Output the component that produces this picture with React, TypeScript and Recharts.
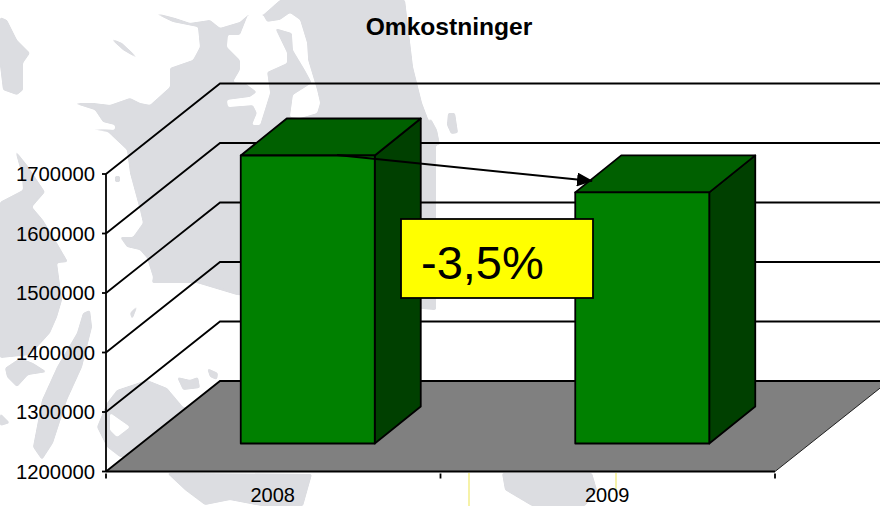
import React from "react";
import { BarChart, Bar, XAxis, YAxis, CartesianGrid } from "recharts";

const years = ["2008", "2009"];
const costs = [1684000, 1622000];
const yTicks = [1200000, 1300000, 1400000, 1500000, 1600000, 1700000];
const chartTitle = "Omkostninger";
const changeLabel = "-3,5%";

const chartData = years.map((year, i) => ({ year, cost: costs[i] }));

const FONT = "'Liberation Sans', Arial, sans-serif";
const DEPTH_X = 114;
const DEPTH_Y = 90.5;
const BAR_SHIFT_X = 34.4;
const BAR_SHIFT_Y = 28;
const BAR_DEPTH_X = 46;
const BAR_DEPTH_Y = 37;
const LAND = "#dcdde1";
const LINE_W = 1.8;

const landPaths = [
  "M73,103 L93,103 L110,105 L130,98 L140,103 L150,105 L170,87 L170,68 L193,60 L200,47 L198,27 L173,22 L152,12 L175,18 L190,23 L210,20 L220,28 L240,22 L248,15 L263,15 L280,0 L405,0 L413,67 L422,103 L436,140 L436,310 L237,295 L197,283 L152,283 L153,277 L147,258 L140,250 L127,247 L120,237 L133,237 L143,223 L140,210 L130,173 L127,150 L108,132 L83,128 L115,130 L115,125 L103,122 L95,110 Z",
  "M0,17 L7,20 L17,40 L30,53 L23,63 L23,90 L17,95 L3,90 L0,65 Z",
  "M110,38 L122,43 L140,60 L123,50 Z",
  "M0,202 L23,190 L22,175 L15,150 L27,165 L45,192 L32,207 L43,220 L57,243 L68,262 L57,263 L62,300 L57,317 L50,333 L30,355 L0,358 Z",
  "M5,368 L20,358 L33,363 L47,372 L28,375 L17,387 L7,377 Z",
  "M90,310 L92,327 L82,367 L67,400 L53,443 L42,460 L33,447 L42,400 L57,367 L77,333 L83,313 Z",
  "M0,413 L10,423 L0,426 Z",
  "M107,403 L117,390 L147,380 L167,388 L183,407 L240,420 L240,460 L120,457 L107,447 L97,427 Z",
  "M207,368 L218,373 L217,380 L210,377 Z",
  "M177,377 L190,380 L198,377 L200,388 L183,390 Z",
  "M130,313 L138,305 L132,320 Z",
  "M115,176 L120,176 L120,182 L115,182 Z",
  "M167,473 L185,490 L205,505 L230,500 L262,506 L303,506 L312,474 Z",
  "M502,473 L592,473 L597,490 L585,506 L532,506 L505,490 Z",
  "M448,113 L455,113 L458,133 L451,134 L447,125 Z",
  "M430,117 L437,130 L440,145 L430,145 Z",
];

const whitePaths = [
  "M248,15 L263,15 L267,22 L280,20 L290,13 L300,20 L307,43 L308,60 L317,90 L320,103 L317,113 L300,118 L290,117 L293,95 L312,83 L305,70 L293,50 L292,33 L275,28 L287,53 L287,63 L267,72 L270,93 L260,125 L252,125 L257,113 L253,105 L228,107 L227,100 L250,97 L257,92 L245,83 L233,82 L240,70 L240,60 L227,47 L228,35 L240,35 Z",
  "M110,413 L130,427 L117,437 L110,430 Z",
];

// Each horizontal grid line becomes a side-wall slant plus a back-wall line.
function WallLine(props: any) {
  const { x1, x2, y1 } = props;
  const backY = y1 - DEPTH_Y;
  const backL = x1 + DEPTH_X;
  const backR = x2 + DEPTH_X;
  if (Math.abs(y1 - 471.5) < 1) {
    return (
      <g>
        <polygon points={`${x1},${y1} ${backL},${backY} ${backR},${backY} ${x2},${y1}`} fill="#808080" />
        <polyline points={`${x1},${y1} ${backL},${backY} ${backR},${backY}`} fill="none" stroke="#000" strokeWidth={LINE_W} />
        <line x1={x2} y1={y1} x2={backR} y2={backY} stroke="#222" strokeWidth={1} />
      </g>
    );
  }
  return (
    <polyline points={`${x1},${y1} ${backL},${backY} ${backR},${backY}`} fill="none" stroke="#000" strokeWidth={LINE_W} />
  );
}

function Box3D(props: any) {
  const { x, y, width, height } = props;
  const l = x + BAR_SHIFT_X;
  const r = l + width;
  const t = y - BAR_SHIFT_Y;
  const b = t + height;
  const dx = BAR_DEPTH_X;
  const dy = BAR_DEPTH_Y;
  const edge = { stroke: "#000", strokeWidth: LINE_W, strokeLinejoin: "round" as const };
  return (
    <g>
      <polygon points={`${r},${t} ${r + dx},${t - dy} ${r + dx},${b - dy} ${r},${b}`} fill="#004000" {...edge} />
      <polygon points={`${l},${t} ${l + dx},${t - dy} ${r + dx},${t - dy} ${r},${t}`} fill="#006000" {...edge} />
      <rect x={l} y={t} width={width} height={height} fill="#008000" {...edge} />
    </g>
  );
}

function YearTick(props: any) {
  const { x, y, payload, index } = props;
  const half = payload?.offset ?? 167.25;
  return (
    <g>
      <line x1={x - half} y1={y - 6} x2={x - half} y2={y - 1} stroke="#000" strokeWidth={LINE_W} />
      {index === years.length - 1 && (
        <line x1={x + half} y1={y - 6} x2={x + half} y2={y - 1} stroke="#000" strokeWidth={LINE_W} />
      )}
      <text x={x - 0.5} y={501.5} textAnchor="middle" fontFamily={FONT} fontSize={20} fill="#000">
        {payload.value}
      </text>
    </g>
  );
}

export default function App() {
  const layer: React.CSSProperties = { position: "absolute", left: 0, top: 0 };
  return (
    <div style={{ ...layer, width: 880, height: 506, overflow: "hidden", background: "#fff" }}>
      <svg width={880} height={506} style={layer}>
        <defs>
          <filter id="organic" x="-5%" y="-5%" width="110%" height="110%">
            <feGaussianBlur stdDeviation="1.3" />
            <feComponentTransfer>
              <feFuncA type="linear" slope="4" intercept="-1.4" />
            </feComponentTransfer>
          </filter>
        </defs>
        <g filter="url(#organic)">
          {landPaths.map((d, i) => (
            <path key={i} d={d} fill={LAND} />
          ))}
        </g>
        <g filter="url(#organic)">
          {whitePaths.map((d, i) => (
            <path key={i} d={d} fill="#fff" />
          ))}
        </g>
        <line x1={469} y1={473} x2={469} y2={506} stroke="#f6f2a8" strokeWidth={2} />
        <line x1={616} y1={473} x2={616} y2={491} stroke="#f6f2a8" strokeWidth={2} />
      </svg>
      <div style={layer}>
        <BarChart
          width={880}
          height={506}
          data={chartData}
          margin={{ top: 174, right: 105, bottom: 0, left: 0 }}
          barCategoryGap="30%"
        >
          <CartesianGrid vertical={false} horizontal={(p: any) => <WallLine key={p.key ?? p.index} {...p} />} />
          <XAxis
            dataKey="year"
            height={34.5}
            interval={0}
            tickLine={false}
            stroke="#000"
            strokeWidth={LINE_W}
            tick={(p: any) => <YearTick {...p} />}
          />
          <YAxis
            width={106}
            domain={[1200000, 1700000]}
            ticks={yTicks}
            interval={0}
            stroke="#000"
            strokeWidth={LINE_W}
            tickSize={4}
            tickMargin={7}
            tick={{ fontFamily: FONT, fontSize: 20.3, fill: "#000" }}
            tickLine={{ stroke: "#000", strokeWidth: LINE_W }}
          />
          <Bar dataKey="cost" isAnimationActive={false} shape={(p: any) => <Box3D {...p} />} />
        </BarChart>
      </div>
      <svg width={880} height={506} style={{ ...layer, pointerEvents: "none" }}>
        <defs>
          <marker id="head" markerUnits="userSpaceOnUse" markerWidth={16} markerHeight={14} refX={15} refY={7} orient="auto">
            <path d="M0,0 L16,7 L0,14 Z" fill="#000" />
          </marker>
        </defs>
        <text x={449} y={35} textAnchor="middle" fontFamily={FONT} fontWeight="bold" fontSize={24.6} fill="#000">
          {chartTitle}
        </text>
        <line x1={337} y1={155} x2={592} y2={181} stroke="#000" strokeWidth={2} markerEnd="url(#head)" />
        <rect x={401} y={219} width={192} height={79} fill="#ffff00" stroke="#000" strokeWidth={1.8} />
        <text x={421} y={279} fontFamily={FONT} fontSize={47} fill="#000">
          {changeLabel}
        </text>
      </svg>
    </div>
  );
}
